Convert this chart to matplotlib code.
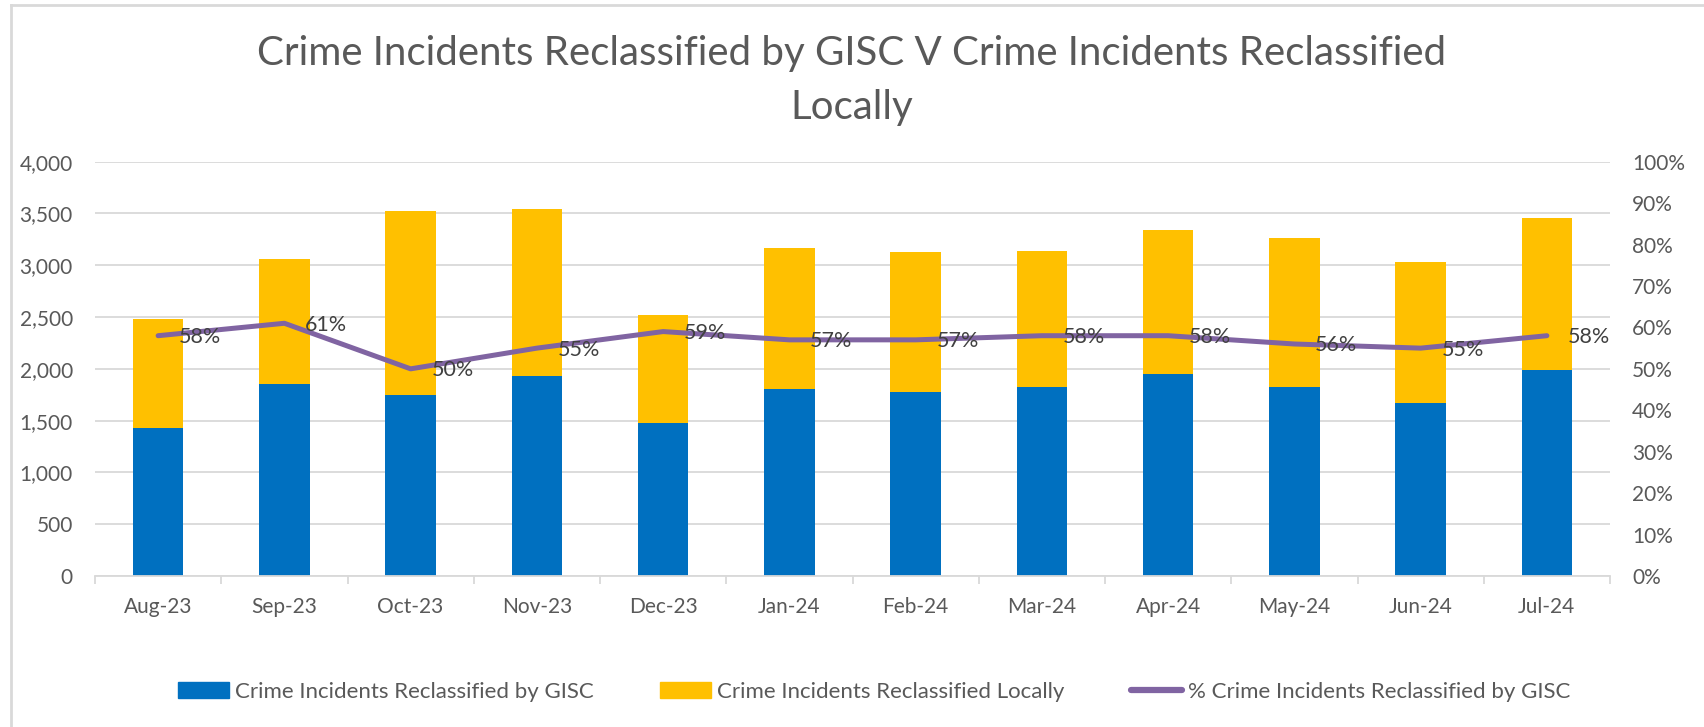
import numpy as np
import matplotlib
matplotlib.use('Agg')
import matplotlib.pyplot as plt
from matplotlib.lines import Line2D
from matplotlib.patches import Patch
from matplotlib.ticker import FuncFormatter, PercentFormatter

plt.rcParams['font.family'] = ['Lato', 'DejaVu Sans']

months = ['Aug-23', 'Sep-23', 'Oct-23', 'Nov-23', 'Dec-23', 'Jan-24',
          'Feb-24', 'Mar-24', 'Apr-24', 'May-24', 'Jun-24', 'Jul-24']
gisc = [1432, 1857, 1748, 1934, 1480, 1809, 1780, 1828, 1953, 1828, 1670, 1989]
local = [1049, 1204, 1776, 1609, 1043, 1355, 1348, 1310, 1391, 1435, 1362, 1467]
pct_gisc = [0.58, 0.61, 0.50, 0.55, 0.59, 0.57, 0.57, 0.58, 0.58, 0.56, 0.55, 0.58]

BLUE = '#0070C0'
GOLD = '#FFC000'
PURPLE = '#8064A2'
GRID = '#D9D9D9'
TXT = '#595959'

W, H = 1704, 727
fig = plt.figure(figsize=(W / 100, H / 100), dpi=100)
ax = fig.add_axes([95 / W, 1 - 576 / H, (1610 - 95) / W, (576 - 161.7) / H])

x = np.arange(len(months))
ax.bar(x, gisc, width=0.4, color=BLUE, zorder=2)
ax.bar(x, local, width=0.4, bottom=gisc, color=GOLD, zorder=2)

ax.set_xlim(-0.5, len(months) - 0.5)
ax.set_ylim(0, 4000)
ax.set_yticks(np.arange(0, 4001, 500))
ax.yaxis.set_major_formatter(FuncFormatter(lambda v, p: '{:,.0f}'.format(v)))
ax.yaxis.grid(True, color=GRID, lw=1.3)
ax.set_axisbelow(True)
ax.tick_params(axis='y', length=0, pad=16, labelsize=15, labelcolor=TXT)

# category boundary ticks + labels at centres
ax.set_xticks(np.arange(len(months) + 1) - 0.5)
ax.set_xticklabels([])
ax.set_xticks(x, minor=True)
ax.set_xticklabels(months, minor=True)
ax.tick_params(axis='x', which='major', length=6, width=1.3, color=GRID)
ax.tick_params(axis='x', which='minor', length=0, pad=15, labelsize=15, labelcolor=TXT)

for s in ['top', 'left', 'right']:
    ax.spines[s].set_visible(False)
ax.spines['bottom'].set_color(GRID)
ax.spines['bottom'].set_linewidth(1.3)

ax2 = ax.twinx()
ax2.plot(x, pct_gisc, color=PURPLE, lw=3.6, solid_capstyle='round', solid_joinstyle='round')
ax2.set_ylim(0, 1)
ax2.set_yticks(np.arange(0, 1.01, 0.1))
ax2.yaxis.set_major_formatter(PercentFormatter(1.0, decimals=0))
ax2.tick_params(axis='y', length=0, pad=16, labelsize=15, labelcolor=TXT)
for s in ['top', 'left', 'right', 'bottom']:
    ax2.spines[s].set_visible(False)

for xi, p in zip(x, pct_gisc):
    ax2.annotate('{:.0%}'.format(p), (xi, p), xytext=(15, -1), textcoords='offset points',
                 ha='left', va='center', fontsize=15.5, color='#404040')

fig.suptitle('Crime Incidents Reclassified by GISC V Crime Incidents Reclassified\nLocally',
             x=0.5, y=1 - 35 / H, va='top', fontsize=29, color=TXT,
             linespacing=1.55)

handles = [Patch(color=BLUE), Patch(color=GOLD),
           Line2D([], [], color=PURPLE, lw=4.5, solid_capstyle='round')]
labels = ['Crime Incidents Reclassified by GISC', 'Crime Incidents Reclassified Locally',
          '% Crime Incidents Reclassified by GISC']
fig.legend(handles, labels, loc='center', bbox_to_anchor=(0.513, 1 - 692 / H), ncol=3,
           frameon=False, fontsize=16, labelcolor=TXT, handlelength=2.3, handleheight=0.72,
           handletextpad=0.25, columnspacing=3.0)

# chart area border (top and left edges visible)
fig.add_artist(Line2D([11 / W, 11 / W], [0, 1 - 5 / H], color=GRID, lw=2))
fig.add_artist(Line2D([11 / W, 1], [1 - 5 / H, 1 - 5 / H], color=GRID, lw=2))

fig.savefig('out.png', dpi=100)
